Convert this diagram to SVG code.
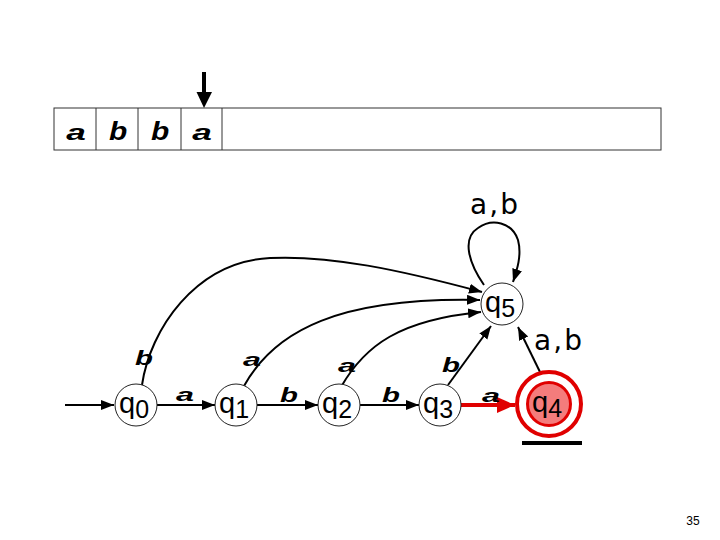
<svg xmlns="http://www.w3.org/2000/svg" width="720" height="540" viewBox="0 0 720 540">
<style>
.node{fill:#fff;stroke:#222;stroke-width:1}
.edge{fill:none;stroke:#000;stroke-width:2}
.ql{font-family:"Liberation Sans","DejaVu Sans",sans-serif;fill:#000}
.el{font-family:"Liberation Sans",Arial,sans-serif;font-weight:bold;font-style:italic;fill:#000;text-anchor:middle}
.lbl{font-family:"DejaVu Sans","Liberation Sans",sans-serif;font-size:28px;fill:#000;text-anchor:middle;letter-spacing:2px}
</style>
<defs>
<marker id="ah" markerUnits="userSpaceOnUse" markerWidth="14" markerHeight="12" refX="13" refY="5" orient="auto">
<path d="M0,0 L13,5 L0,10 Z" fill="#000"/>
</marker>
<marker id="ahr" markerUnits="userSpaceOnUse" markerWidth="20" markerHeight="18" refX="18" refY="8" orient="auto">
<path d="M0,0 L18,8 L0,16 Z" fill="#e00000"/>
</marker>
</defs>
<rect width="720" height="540" fill="#fff"/>
<g id="tape">
<rect x="54" y="108" width="607" height="42" fill="#fff" stroke="#333" stroke-width="1"/>
<line x1="96" y1="108" x2="96" y2="150" stroke="#333" stroke-width="1"/>
<line x1="138" y1="108" x2="138" y2="150" stroke="#333" stroke-width="1"/>
<line x1="181" y1="108" x2="181" y2="150" stroke="#333" stroke-width="1"/>
<line x1="222" y1="108" x2="222" y2="150" stroke="#333" stroke-width="1"/>
<text class="el" font-size="22" transform="translate(76,140) scale(1.6,1)">a</text>
<text class="el" font-size="26" transform="translate(118,140) scale(1.15,1)">b</text>
<text class="el" font-size="26" transform="translate(160,140) scale(1.15,1)">b</text>
<text class="el" font-size="22" transform="translate(202,140) scale(1.6,1)">a</text>
</g>
<g id="head">
<line x1="204" y1="72" x2="204" y2="94" stroke="#000" stroke-width="4"/>
<path d="M196.5,92 L212,92 L204,108 Z" fill="#000"/>
</g>
<g id="connectors">
<path class="edge" d="M65,405 L114,405" marker-end="url(#ah)"/>
<path class="edge" d="M157,405 L215,405" marker-end="url(#ah)"/>
<path class="edge" d="M257,405 L318,405" marker-end="url(#ah)"/>
<path class="edge" d="M360,405 L419,405" marker-end="url(#ah)"/>
<path d="M461,405 L515,405" fill="none" stroke="#e00000" stroke-width="4" marker-end="url(#ahr)"/>
<path class="edge" d="M142,385 C150,330 195,262 270,258 C330,255 400,270 482,292" marker-end="url(#ah)"/>
<path class="edge" d="M244,386 C275,330 340,297 480,300" marker-end="url(#ah)"/>
<path class="edge" d="M341,387 C365,345 400,320 481,312" marker-end="url(#ah)"/>
<path class="edge" d="M448,385 L491,326" marker-end="url(#ah)"/>
<path class="edge" d="M540,372 L518,327" marker-end="url(#ah)"/>
<path class="edge" d="M484,285 C468,262 462,238 478,228 C492,218 512,222 518,240 C522,255 517,270 513,282" marker-end="url(#ah)"/>
<text class="el" font-size="21" transform="translate(144,365) scale(1.4,1)">b</text>
<text class="el" font-size="18" transform="translate(185,401) scale(1.8,1)">a</text>
<text class="el" font-size="18" transform="translate(252,366) scale(1.8,1)">a</text>
<text class="el" font-size="21" transform="translate(289,402) scale(1.4,1)">b</text>
<text class="el" font-size="18" transform="translate(347,372) scale(1.8,1)">a</text>
<text class="el" font-size="21" transform="translate(391,402) scale(1.4,1)">b</text>
<text class="el" font-size="21" transform="translate(451,372) scale(1.4,1)">b</text>
<text class="el" font-size="18" transform="translate(491,402) scale(1.8,1)">a</text>
<text class="lbl" x="495" y="214">a,b</text>
<text class="lbl" x="559" y="350">a,b</text>
</g>
<g id="q0">
<circle class="node" cx="136" cy="405" r="21"/>
<text class="ql" x="119" y="413"><tspan font-size="29">q</tspan><tspan font-size="25" dy="5">0</tspan></text>
</g>
<g id="q1">
<circle class="node" cx="236" cy="405" r="21"/>
<text class="ql" x="219" y="413"><tspan font-size="29">q</tspan><tspan font-size="25" dy="5">1</tspan></text>
</g>
<g id="q2">
<circle class="node" cx="339" cy="405" r="21"/>
<text class="ql" x="322" y="413"><tspan font-size="29">q</tspan><tspan font-size="25" dy="5">2</tspan></text>
</g>
<g id="q3">
<circle class="node" cx="440" cy="405" r="21"/>
<text class="ql" x="423" y="413"><tspan font-size="29">q</tspan><tspan font-size="25" dy="5">3</tspan></text>
</g>
<g id="q5">
<circle class="node" cx="502" cy="304" r="21"/>
<text class="ql" x="485" y="312"><tspan font-size="29">q</tspan><tspan font-size="25" dy="5">5</tspan></text>
</g>
<g id="q4">
<circle cx="549" cy="404" r="32" fill="#fff" stroke="#e00000" stroke-width="4"/>
<circle cx="549" cy="404" r="21.5" fill="#f47c7c" stroke="#e00000" stroke-width="3"/>
<text class="ql" x="532" y="412"><tspan font-size="29">q</tspan><tspan font-size="25" dy="5">4</tspan></text>
<line x1="522" y1="443" x2="582" y2="443" stroke="#000" stroke-width="4"/>
</g>
<text x="693" y="525" font-family="Liberation Sans,sans-serif" font-size="12" text-anchor="middle" fill="#000">35</text>
</svg>
